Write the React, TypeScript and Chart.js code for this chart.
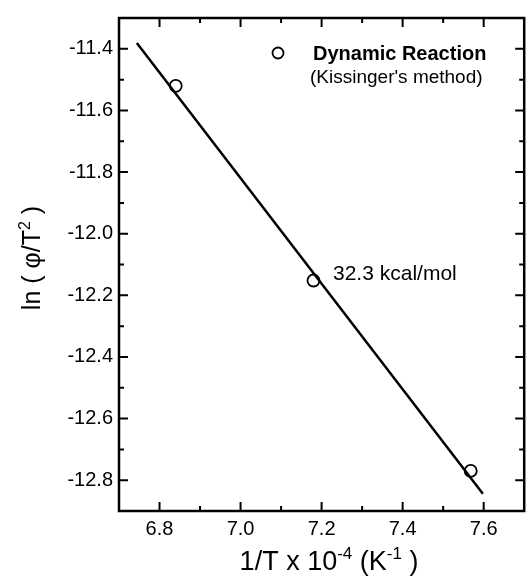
import { useEffect, useRef } from "react";
import Chart from "chart.js/auto";

// Measured data (1/T x 10^-4, ln(phi/T^2))
const xPoints = [6.84, 7.18, 7.568];
const yPoints = [-11.52, -12.152, -12.77];
// Fitted straight line end points
const fitX = [6.744, 7.598];
const fitY = [-11.381, -12.844];
// Axis ticks
const xMajor = [6.8, 7.0, 7.2, 7.4, 7.6];
const xMinor = [6.9, 7.1, 7.3, 7.5];
const yMajor = [-11.4, -11.6, -11.8, -12.0, -12.2, -12.4, -12.6, -12.8];
const yMinor = [-11.5, -11.7, -11.9, -12.1, -12.3, -12.5, -12.7];
const legendLine1 = "Dynamic Reaction";
const legendLine2 = "(Kissinger's method)";
const annotationText = "32.3 kcal/mol";

const FONT = "'Liberation Sans', Arial, Helvetica, sans-serif";

type Run = { text: string; sup?: boolean };

function drawRich(
  ctx: CanvasRenderingContext2D,
  runs: Run[],
  cx: number,
  cy: number,
  size: number,
  supSize: number,
  supRaise: number
) {
  let total = 0;
  const widths = runs.map((r) => {
    ctx.font = `${r.sup ? supSize : size}px ${FONT}`;
    const w = ctx.measureText(r.text).width;
    total += w;
    return w;
  });
  let x = cx - total / 2;
  ctx.textAlign = "left";
  ctx.textBaseline = "alphabetic";
  const base = cy + size * 0.36;
  runs.forEach((r, i) => {
    ctx.font = `${r.sup ? supSize : size}px ${FONT}`;
    ctx.fillText(r.text, x, r.sup ? base - supRaise : base);
    x += widths[i];
  });
}

const framePlugin = {
  id: "framePlugin",
  afterDraw(chart: any) {
    const ctx: CanvasRenderingContext2D = chart.ctx;
    const { left, right, top, bottom } = chart.chartArea;
    const xs = chart.scales.x;
    const ys = chart.scales.y;
    ctx.save();
    ctx.strokeStyle = "#000";
    ctx.fillStyle = "#000";
    // frame
    ctx.lineWidth = 2.5;
    ctx.strokeRect(left, top, right - left, bottom - top);
    // ticks inward on all sides
    ctx.lineWidth = 2;
    const tick = (vals: number[], len: number) => {
      vals.forEach((v) => {
        const px = xs.getPixelForValue(v);
        ctx.beginPath();
        ctx.moveTo(px, bottom);
        ctx.lineTo(px, bottom - len);
        ctx.moveTo(px, top);
        ctx.lineTo(px, top + len);
        ctx.stroke();
      });
    };
    const tickY = (vals: number[], len: number) => {
      vals.forEach((v) => {
        const py = ys.getPixelForValue(v);
        ctx.beginPath();
        ctx.moveTo(left, py);
        ctx.lineTo(left + len, py);
        ctx.moveTo(right, py);
        ctx.lineTo(right - len, py);
        ctx.stroke();
      });
    };
    tick(xMajor, 9);
    tick(xMinor, 5);
    tickY(yMajor, 9);
    tickY(yMinor, 5);

    // legend
    ctx.lineWidth = 1.8;
    ctx.beginPath();
    ctx.arc(278, 53, 5.5, 0, Math.PI * 2);
    ctx.fillStyle = "#fff";
    ctx.fill();
    ctx.stroke();
    ctx.fillStyle = "#000";
    ctx.textAlign = "left";
    ctx.textBaseline = "middle";
    ctx.font = `bold 20px ${FONT}`;
    ctx.fillText(legendLine1, 313, 54);
    ctx.font = `19px ${FONT}`;
    ctx.fillText(legendLine2, 310, 78);

    // annotation
    ctx.font = `21px ${FONT}`;
    ctx.fillText(annotationText, 333, 274);

    // x title
    drawRich(
      ctx,
      [
        { text: "1/T x 10" },
        { text: "-4", sup: true },
        { text: " (K" },
        { text: "-1", sup: true },
        { text: " )" },
      ],
      329,
      560,
      27,
      17,
      11
    );

    // y title
    ctx.save();
    ctx.translate(31, 258);
    ctx.rotate(-Math.PI / 2);
    drawRich(
      ctx,
      [{ text: "ln ( \u03c6/T" }, { text: "2", sup: true }, { text: " )" }],
      0,
      0,
      25,
      16,
      10
    );
    ctx.restore();
    ctx.restore();
  },
};

export default function App() {
  const ref = useRef<HTMLCanvasElement | null>(null);
  useEffect(() => {
    if (!ref.current) return;
    const chart = new Chart(ref.current, {
      type: "scatter",
      data: {
        datasets: [
          {
            label: "fit",
            data: fitX.map((x, i) => ({ x, y: fitY[i] })),
            showLine: true,
            borderColor: "#000",
            borderWidth: 2.5,
            pointRadius: 0,
            fill: false,
          },
          {
            label: legendLine1,
            data: xPoints.map((x, i) => ({ x, y: yPoints[i] })),
            pointRadius: 6,
            pointBackgroundColor: "#fff",
            pointBorderColor: "#000",
            pointBorderWidth: 1.8,
            showLine: false,
          },
        ],
      },
      options: {
        responsive: false,
        animation: false,
        layout: { padding: { left: 0, top: 7, right: 5, bottom: 0 } },
        plugins: {
          legend: { display: false },
          tooltip: { enabled: false },
          title: { display: false },
        },
        scales: {
          x: {
            type: "linear",
            min: 6.7,
            max: 7.7,
            afterBuildTicks: (s: any) => {
              s.ticks = xMajor.map((v) => ({ value: v }));
            },
            afterFit: (s: any) => {
              s.height = 67;
            },
            grid: { display: false, drawTicks: false },
            border: { display: false },
            ticks: {
              color: "#000",
              padding: 6,
              font: { family: FONT, size: 20 },
              callback: (v: any) => Number(v).toFixed(1),
              maxRotation: 0,
            },
          },
          y: {
            type: "linear",
            min: -12.9,
            max: -11.3,
            afterBuildTicks: (s: any) => {
              s.ticks = yMajor.map((v) => ({ value: v }));
            },
            afterFit: (s: any) => {
              s.width = 119;
            },
            grid: { display: false, drawTicks: false },
            border: { display: false },
            ticks: {
              color: "#000",
              padding: 6,
              font: { family: FONT, size: 20 },
              callback: (v: any) => Number(v).toFixed(1),
            },
          },
        },
      },
      plugins: [framePlugin],
    });
    return () => chart.destroy();
  }, []);
  return (
    <div style={{ position: "absolute", left: 0, top: 0, width: 532, height: 578, background: "#fff" }}>
      <canvas ref={ref} width={532} height={578} style={{ display: "block" }} />
    </div>
  );
}
